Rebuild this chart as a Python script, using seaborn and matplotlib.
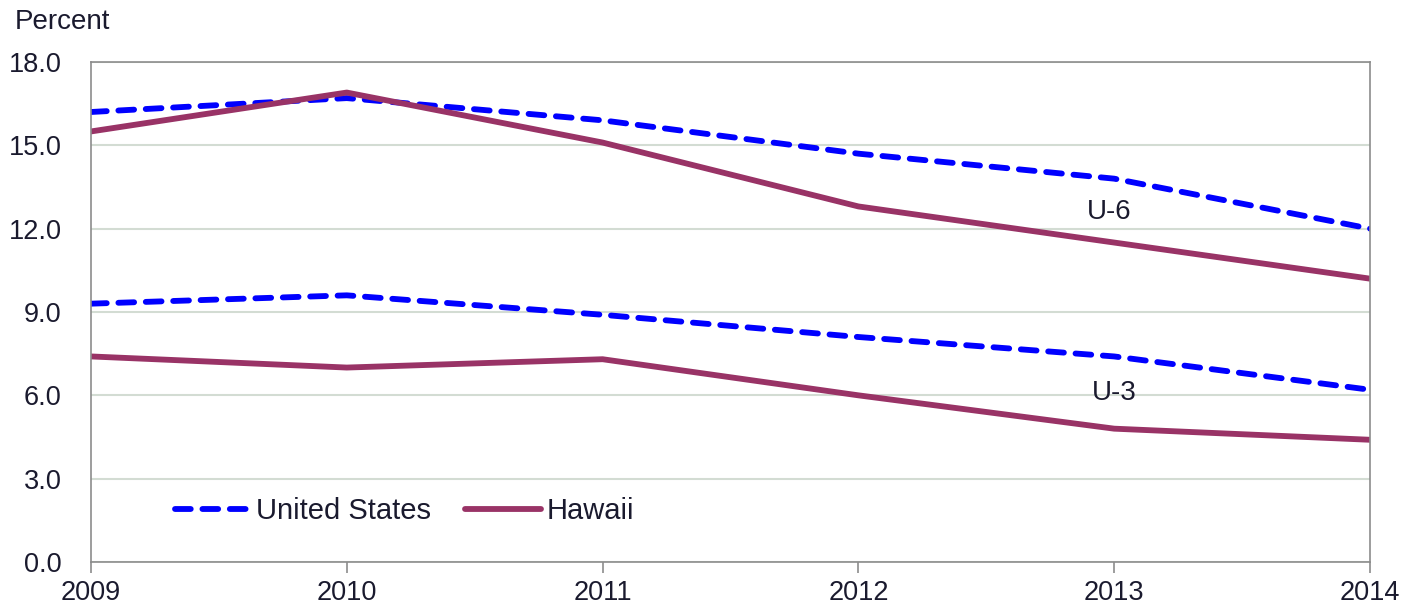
import numpy as np
import pandas as pd
import matplotlib
matplotlib.use("Agg")
import matplotlib.pyplot as plt
import seaborn as sns

# data (percent)
years = [2009, 2010, 2011, 2012, 2013, 2014]
us_u6 = [16.2, 16.7, 15.9, 14.7, 13.8, 12.0]
hi_u6 = [15.5, 16.9, 15.1, 12.8, 11.5, 10.2]
us_u3 = [9.3, 9.6, 8.9, 8.1, 7.4, 6.2]
hi_u3 = [7.4, 7.0, 7.3, 6.0, 4.8, 4.4]

rows = []
for area, measure, vals in [("United States", "U-6", us_u6), ("Hawaii", "U-6", hi_u6),
                            ("United States", "U-3", us_u3), ("Hawaii", "U-3", hi_u3)]:
    for y, v in zip(years, vals):
        rows.append({"year": y, "value": v, "area": area, "measure": measure})
df = pd.DataFrame(rows)

sns.set_style("white")
plt.rcParams['font.family'] = ['Liberation Sans', 'DejaVu Sans']

fig = plt.figure(figsize=(14.04, 6.06), dpi=100)
ax = fig.add_axes([0.0648, 0.0726, 0.911, 0.8251])

palette = {"United States": "#0000ff", "Hawaii": "#993366"}
dashes = {"United States": (2.7, 2.0), "Hawaii": ""}
txt = "#1a1a2e"

for m in ["U-6", "U-3"]:
    sns.lineplot(data=df[df.measure == m], x="year", y="value", hue="area", style="area",
                 palette=palette, dashes=dashes, linewidth=4.2, ax=ax,
                 legend=(m == "U-6"), dash_capstyle="round")

ax.set_xlim(2009, 2014)
ax.set_ylim(0, 18)
ax.set_yticks(np.arange(0, 18.1, 3))
ax.set_yticklabels([f"{v:.1f}" for v in np.arange(0, 18.1, 3)])
ax.set_xticks(years)
ax.set_xlabel("")
ax.set_ylabel("")
ax.grid(axis="y", color="#d3dcd3", linewidth=1.5)
for s in ax.spines.values():
    s.set_color("#8c8c8c")
    s.set_linewidth(1.2)
ax.tick_params(axis="x", direction="out", length=8, width=1.2, color="#8c8c8c",
               labelsize=19.5, pad=5, bottom=True)
ax.tick_params(axis="y", length=0, labelsize=19.5, pad=21)
for lab in ax.get_xticklabels() + ax.get_yticklabels():
    lab.set_color(txt)

ax.text(2012.98, 12.6, "U-6", fontsize=20, color=txt, ha="center", va="center")
ax.text(2013.0, 6.1, "U-3", fontsize=20, color=txt, ha="center", va="center")

fig.text(15 / 1404, 1 - 22 / 606, "Percent", fontsize=20, color=txt, va="center")

leg = ax.legend(loc="lower left", bbox_to_anchor=(0.045, 0.022), ncol=2, frameon=False,
                fontsize=21, handlelength=2.6, columnspacing=1.15, handletextpad=0.2)
for lab in leg.get_texts():
    lab.set_color(txt)

fig.savefig("out.png", dpi=100)
